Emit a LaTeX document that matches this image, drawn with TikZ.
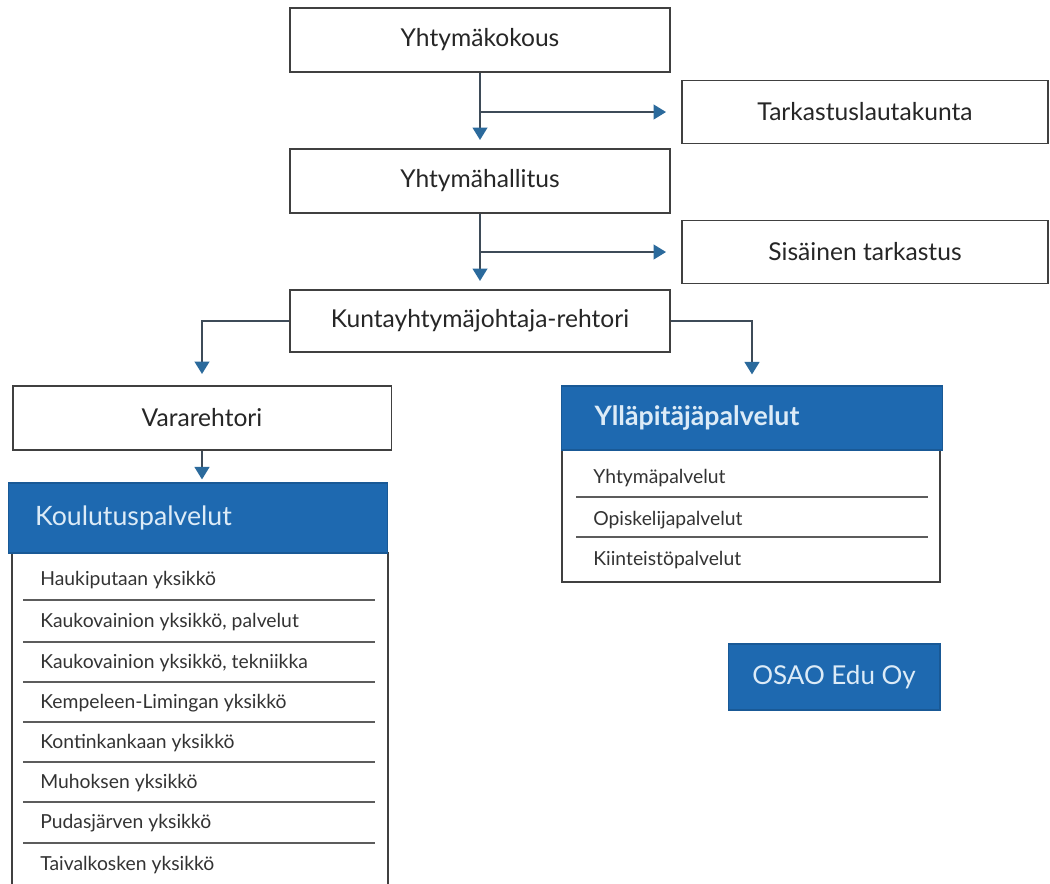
\documentclass[tikz,border=0pt]{standalone}
\usepackage{fontspec}
\setmainfont{Lato}
\usetikzlibrary{arrows.meta,positioning}
\definecolor{HeadBlue}{HTML}{1E69B0}
\definecolor{TipBlue}{HTML}{2B6A9C}
\definecolor{LineGray}{HTML}{3E4B58}
\definecolor{BoxGray}{HTML}{404040}
\definecolor{RuleGray}{HTML}{5C5C5C}
\definecolor{PaleText}{HTML}{DCEBF7}
\tikzset{
  orgbox/.style={
    draw=BoxGray,
    line width=1.1pt,
    fill=white,
    text=black!85,
    minimum width=7.6cm,
    minimum height=1.28cm,
    font=\fontsize{14}{16}\selectfont
  },
  headbox/.style={
    fill=HeadBlue,
    draw=HeadBlue!85!black,
    line width=0.6pt,
    text=PaleText,
    align=left,
    inner ysep=0pt
  },
  bodybox/.style={
    draw=BoxGray,
    line width=1.1pt,
    fill=white
  },
  rowtext/.style={
    font=\fontsize{11}{13}\selectfont,
    text=black!80,
    anchor=west,
    inner sep=0pt
  },
  rowrule/.style={
    draw=RuleGray,
    line width=0.6pt
  },
  flowarrow/.style={
    -{Triangle[length=2.5mm,width=2.9mm,color=TipBlue]},
    line width=1.5pt,
    draw=LineGray
  }
}
\newcommand{\unitrow}[4]{%
  \node[rowtext] (#1) at (#2,#3) {#4};
}

\begin{document}
\begin{tikzpicture}[x=0.02cm,y=-0.02cm]

% Page frame.
\clip (0,0) rectangle (1050,883);
\fill[white] (0,0) rectangle (1050,883);

% Governance chain.
\node[orgbox] (kokous) at (480,40) {Yhtymäkokous};
\node[orgbox, minimum width=7.32cm, minimum height=1.26cm] (lautakunta) at (865,112) {Tarkastuslautakunta};
\node[orgbox] (hallitus) at (480,181) {Yhtymähallitus};
\node[orgbox, minimum width=7.32cm, minimum height=1.26cm] (sisainen) at (865,252) {Sisäinen tarkastus};
\node[orgbox, minimum height=1.24cm] (johtaja) at (480,321) {Kuntayhtymäjohtaja-rehtori};
\node[orgbox, minimum width=7.58cm] (vara) at (202,418) {Vararehtori};

% Koulutuspalvelut.
\node[bodybox, minimum width=7.52cm, minimum height=6.94cm] (koulbody) at (200,726) {};
\node[headbox, minimum width=7.6cm, minimum height=1.4cm, text width=6.52cm,
  inner xsep=0.54cm, font=\fontsize{15.2}{18}\selectfont] (koulutus) at (198,518) {Koulutuspalvelut};

\unitrow{hauki}{40}{580}{Haukiputaan yksikkö}
\unitrow{kpalv}{40}{622}{Kaukovainion yksikkö, palvelut}
\unitrow{ktekn}{40}{663}{Kaukovainion yksikkö, tekniikka}
\unitrow{kempele}{40}{703}{Kempeleen-Limingan yksikkö}
\unitrow{kontinkangas}{40}{743}{Kontinkankaan yksikkö}
\unitrow{muhos}{40}{783}{Muhoksen yksikkö}
\unitrow{pudasjarvi}{40}{823}{Pudasjärven yksikkö}
\unitrow{taivalkoski}{40}{865}{Taivalkosken yksikkö}

\draw[rowrule] (23,600) -- (375,600);
\draw[rowrule] (23,642) -- (375,642);
\draw[rowrule] (23,682) -- (375,682);
\draw[rowrule] (23,722) -- (375,722);
\draw[rowrule] (23,762) -- (375,762);
\draw[rowrule] (23,802) -- (375,802);
\draw[rowrule] (23,843) -- (375,843);

% Ylläpitäjäpalvelut.
\node[bodybox, minimum width=7.56cm, minimum height=2.64cm] (yllbody) at (751,516) {};
\node[headbox, minimum width=7.62cm, minimum height=1.28cm, text width=6.3cm,
  inner xsep=0.66cm, font=\bfseries\fontsize{15.2}{18}\selectfont] (yllapito) at (752,418) {Ylläpitäjäpalvelut};

\unitrow{yhtyma}{593}{478}{Yhtymäpalvelut}
\unitrow{opiskelija}{593}{520}{Opiskelijapalvelut}
\unitrow{kiinteisto}{593}{560}{Kiinteistöpalvelut}

\draw[rowrule] (576,497) -- (928,497);
\draw[rowrule] (576,537) -- (928,537);

% Subsidiary.
\node[headbox, minimum width=4.24cm, minimum height=1.32cm, align=center,
  font=\fontsize{14.8}{17}\selectfont] (osao) at (834,677) {OSAO Edu Oy};

% Arrows.
\draw[flowarrow, shorten >=0.16cm] (kokous) -- (hallitus);
\draw[flowarrow, shorten >=0.3cm] (kokous.south |- lautakunta.west) -- (lautakunta.west);
\draw[flowarrow, shorten >=0.16cm] (hallitus) -- (johtaja);
\draw[flowarrow, shorten >=0.3cm] (hallitus.south |- sisainen.west) -- (sisainen.west);
\draw[flowarrow, shorten >=0.22cm] (johtaja.west) -| (vara.north);
\draw[flowarrow, shorten >=0.22cm] (johtaja.east) -| (yllapito.north);
\draw[flowarrow, shorten >=0.06cm] (vara.south) -- (vara.south |- koulutus.north);

\end{tikzpicture}
\end{document}
